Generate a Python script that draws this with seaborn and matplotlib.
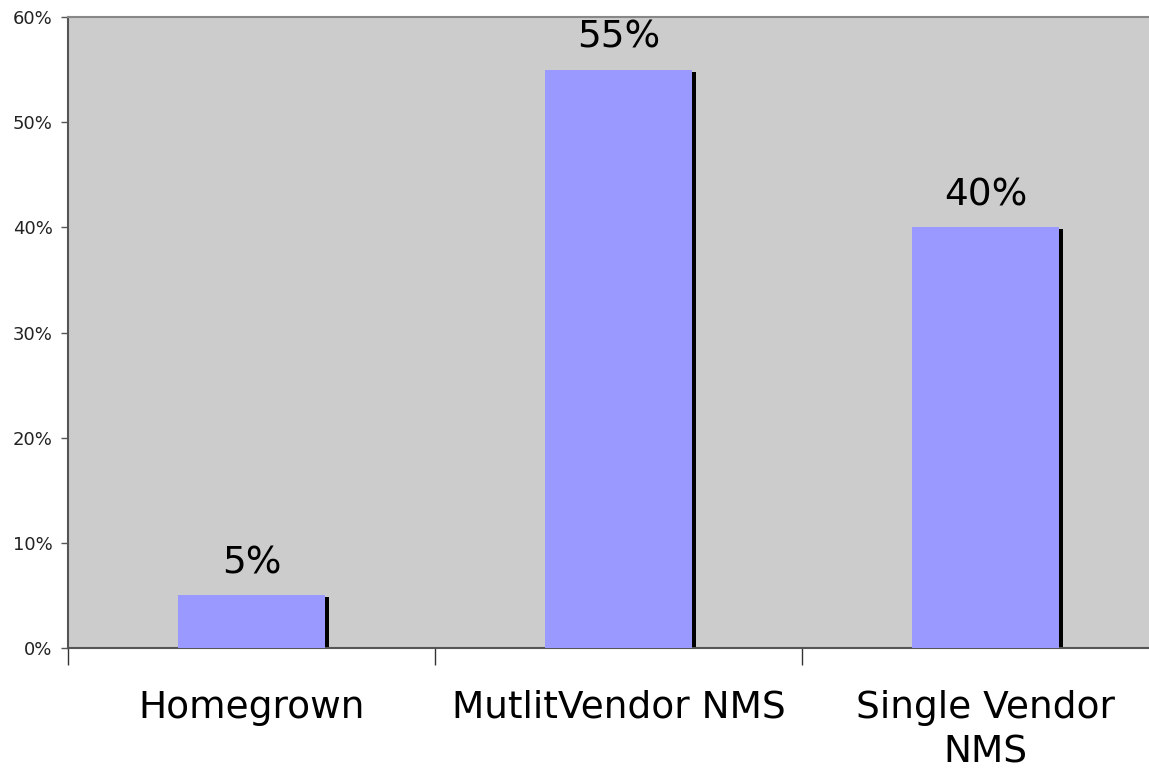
import matplotlib
matplotlib.use("Agg")
import matplotlib.pyplot as plt
import matplotlib.transforms as mtransforms
from matplotlib.patches import Rectangle
from matplotlib.ticker import FixedLocator, PercentFormatter
import seaborn as sns
import pandas as pd

categories = ["Homegrown", "MutlitVendor NMS", "Single Vendor\nNMS"]
values = [0.05, 0.55, 0.40]
value_labels = ["5%", "55%", "40%"]
yticks = [0, 0.1, 0.2, 0.3, 0.4, 0.5, 0.6]

sns.set_theme(style="white")
plt.rcParams["font.family"] = ["DejaVu Sans"]

df = pd.DataFrame({"category": categories, "value": values})

fig = plt.figure(figsize=(11.49, 7.71), dpi=100)
ax = fig.add_axes([68 / 1149, 1 - 648 / 771, 1101 / 1149, (648 - 17) / 771])
ax.set_facecolor("#CCCCCC")

sns.barplot(data=df, x="category", y="value", color="#9999FF", width=0.4,
            saturation=1, ax=ax, zorder=3, edgecolor="none", linewidth=0)

# shadows on bar right edge
for p in list(ax.patches):
    tr = mtransforms.offset_copy(ax.transData, fig=fig, x=4, y=-2, units="dots")
    sh = Rectangle((p.get_x(), p.get_y()), p.get_width(), p.get_height(),
                   facecolor="black", edgecolor="none", transform=tr, zorder=2)
    ax.add_patch(sh)

ax.bar_label(ax.containers[0], labels=value_labels, padding=10, fontsize=27,
             color="black")

ax.set_ylim(0, 0.6)
ax.set_xlim(-0.5, 2.5)
ax.set_yticks(yticks)
ax.yaxis.set_major_formatter(PercentFormatter(1.0, decimals=0))
ax.tick_params(axis="y", which="major", left=True, length=5, width=1,
               color="#555555", labelsize=13, pad=6, labelcolor="#222222")
ax.set_xticks(range(len(categories)))
ax.set_xticklabels(categories, fontsize=27, color="black", linespacing=1.3)
ax.tick_params(axis="x", which="major", length=0, pad=30)
ax.xaxis.set_minor_locator(FixedLocator([-0.5, 0.5, 1.5, 2.5]))
ax.tick_params(axis="x", which="minor", bottom=True, length=12, width=1,
               color="#333333")
ax.set_xlabel("")
ax.set_ylabel("")

for side in ["left", "bottom"]:
    ax.spines[side].set_color("#555555")
    ax.spines[side].set_linewidth(1.5)
ax.spines["top"].set_color("#888888")
ax.spines["top"].set_linewidth(1.5)
ax.spines["right"].set_visible(False)

fig.savefig("out.png", dpi=100)
